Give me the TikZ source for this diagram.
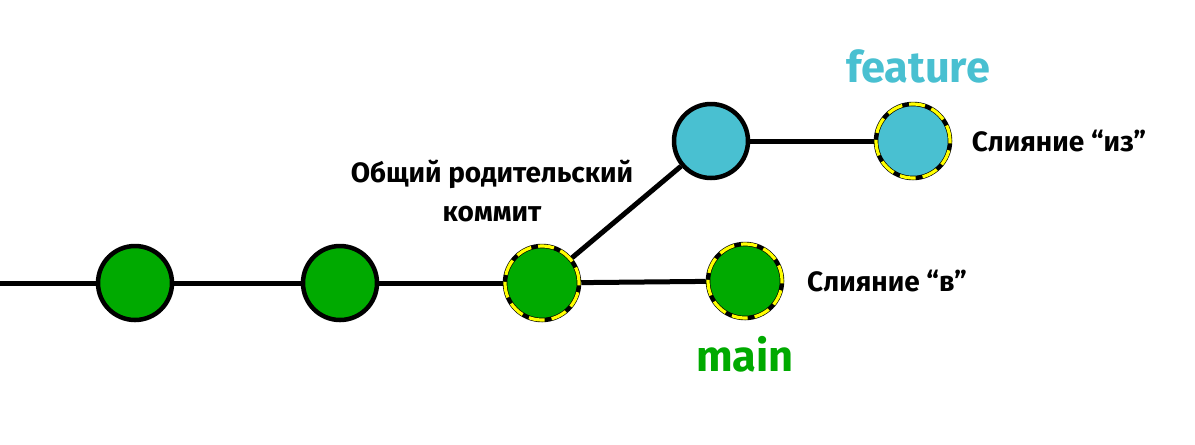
\documentclass[tikz,border=0pt]{standalone}
\usepackage{fontspec}
\usetikzlibrary{backgrounds}
\setmainfont{Fira Sans}[BoldFont=* Bold]
\definecolor{cgreen}{RGB}{0,170,0}
\definecolor{cblue}{RGB}{73,192,209}
\definecolor{cyel}{RGB}{255,255,0}
\tikzset{
  commit/.style={circle, draw=black, line width=4.5*0.75pt, minimum size=74*0.75pt, inner sep=0pt},
  gcommit/.style={commit, fill=cgreen},
  bcommit/.style={commit, fill=cblue},
  merged/.style={commit, postaction={draw=cyel, line width=3.2*0.75pt, dash pattern=on 16*0.75pt off 7*0.75pt}},
  edge/.style={line width=5*0.75pt, black},
  lbl/.style={font=\bfseries\fontsize{21}{25}\selectfont, text=black, inner sep=0pt},
  big/.style={font=\bfseries\fontsize{32.5}{38}\selectfont, inner sep=0pt}
}
\begin{document}
\begin{tikzpicture}[x=0.75pt,y=-0.75pt]
\useasboundingbox (0,0) rectangle (1195,444);
\coordinate (start) at (0,283);
\node[gcommit] (c1) at (135,283) {};
\node[gcommit] (c2) at (340,283) {};
\node[gcommit, merged] (c3) at (542,283) {};
\node[gcommit, merged] (c4) at (745,281) {};
\node[bcommit] (f1) at (711,141) {};
\node[bcommit, merged] (f2) at (913,141) {};
\begin{scope}[on background layer]
\draw[edge] (start) -- (c1);
\draw[edge] (c1) -- (c2);
\draw[edge] (c2) -- (c3);
\draw[edge] (c3) -- (c4);
\draw[edge] (c3) -- (f1);
\draw[edge] (f1) -- (f2);
\end{scope}
\node[big, text=cblue] (tf) at (918,66) {feature};
\node[big, text=cgreen] (tm) at (745,354) {main};
\node[lbl] (l1) at (1059,141) {Слияние “из”};
\node[lbl] (l2) at (887,281) {Слияние “в”};
\node[lbl, align=center] (l3) at (492,191) {Общий родительский\\[4pt]коммит};
\end{tikzpicture}
\end{document}
